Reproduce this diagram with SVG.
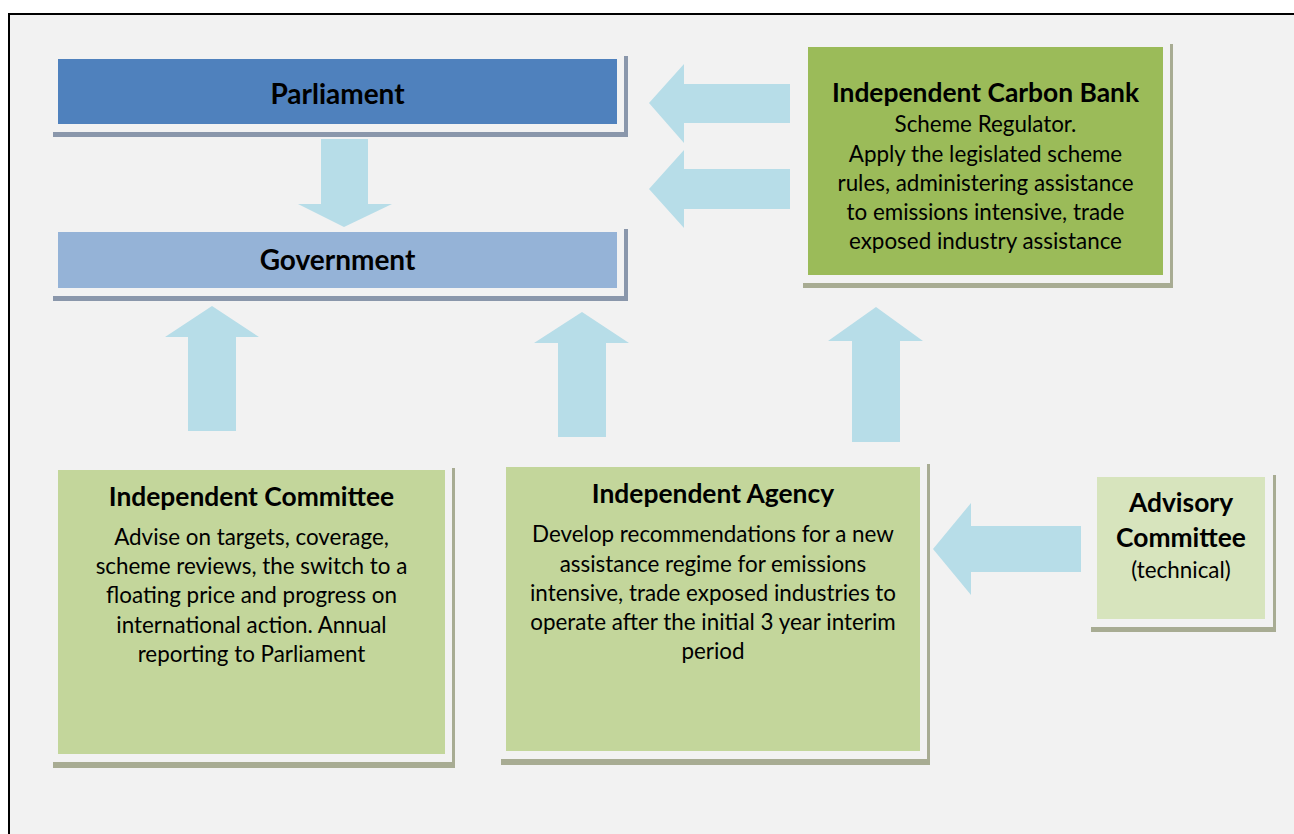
<svg xmlns="http://www.w3.org/2000/svg" width="1294" height="834" viewBox="0 0 1294 834">
<style>
.bg{fill:#f2f2f2;stroke:#000;stroke-width:2}
.arrow{fill:#b7dde8}
.shb{fill:#8a97ab}
.shg{fill:#a8ac93}
.t{font-family:Lato,"Liberation Sans",sans-serif;font-weight:bold;font-size:26.4px;fill:#000;text-anchor:middle}
.tl{font-size:28px}
.b{font-family:Lato,"Liberation Sans",sans-serif;font-size:22.4px;fill:#000;text-anchor:middle}
</style>
<rect width="1294" height="834" fill="#fff"/>
<rect class="bg" x="9" y="14" width="1300" height="830"/>
<g id="connectors">
<polygon class="arrow" points="649,103 684,64 684,84 790,84 790,123 684,123 684,143"/>
<polygon class="arrow" points="649,189 684,150 684,169 790,169 790,209 684,209 684,228"/>
<polygon class="arrow" points="321,139 368,139 368,204 392,204 344,227 298,204 321,204"/>
<polygon class="arrow" points="212,306 259,337 236,337 236,431 188,431 188,337 165,337"/>
<polygon class="arrow" points="582,312 629,343 606,343 606,437 558,437 558,343 534,343"/>
<polygon class="arrow" points="876,307 923,341 900,341 900,442 852,442 852,341 828,341"/>
<polygon class="arrow" points="933,549 971,503 971,526 1081,526 1081,572 971,572 971,595"/>
</g>
<g id="parliament">
<rect class="shb" x="53" y="132" width="575" height="5"/>
<rect class="shb" x="624" y="56" width="4" height="81"/>
<rect x="58" y="59" width="559" height="65" fill="#4f81bd"/>
<text class="t tl" x="337.5" y="104">Parliament</text>
</g>
<g id="government">
<rect class="shb" x="53" y="296" width="575" height="5"/>
<rect class="shb" x="624" y="229" width="4" height="72"/>
<rect x="58" y="232" width="559" height="56" fill="#95b3d7"/>
<text class="t tl" x="337.5" y="270">Government</text>
</g>
<g id="carbon-bank">
<rect class="shg" x="803" y="283" width="370" height="5"/>
<rect class="shg" x="1170" y="44" width="3" height="244"/>
<rect x="808" y="47" width="355" height="228" fill="#9bbb59"/>
<text class="t" x="985.5" y="102">Independent Carbon Bank</text>
<text class="b" x="985.5" y="132">Scheme Regulator.</text>
<text class="b" x="985.5" y="162">Apply the legislated scheme</text>
<text class="b" x="985.5" y="191">rules, administering assistance</text>
<text class="b" x="985.5" y="220">to emissions intensive, trade</text>
<text class="b" x="985.5" y="249">exposed industry assistance</text>
</g>
<g id="independent-committee">
<rect class="shg" x="53" y="762" width="402" height="6"/>
<rect class="shg" x="452" y="468" width="3" height="300"/>
<rect x="58" y="470" width="387" height="284" fill="#c3d69b"/>
<text class="t" x="251.5" y="506">Independent Committee</text>
<text class="b" x="251.5" y="545">Advise on targets, coverage,</text>
<text class="b" x="251.5" y="574">scheme reviews, the switch to a</text>
<text class="b" x="251.5" y="603">floating price and progress on</text>
<text class="b" x="251.5" y="633">international action. Annual</text>
<text class="b" x="251.5" y="662">reporting to Parliament</text>
</g>
<g id="independent-agency">
<rect class="shg" x="501" y="759" width="429" height="6"/>
<rect class="shg" x="927" y="464" width="3" height="301"/>
<rect x="506" y="467" width="414" height="284" fill="#c3d69b"/>
<text class="t" x="713" y="503">Independent Agency</text>
<text class="b" x="713" y="542">Develop recommendations for a new</text>
<text class="b" x="713" y="572">assistance regime for emissions</text>
<text class="b" x="713" y="601">intensive, trade exposed industries to</text>
<text class="b" x="713" y="630">operate after the initial 3 year interim</text>
<text class="b" x="713" y="659">period</text>
</g>
<g id="advisory-committee">
<rect class="shg" x="1091" y="627" width="185" height="5"/>
<rect class="shg" x="1273" y="475" width="3" height="157"/>
<rect x="1097" y="477" width="168" height="142" fill="#d7e4bd"/>
<text class="t" x="1181" y="512">Advisory</text>
<text class="t" x="1181" y="547">Committee</text>
<text class="b" x="1181" y="578">(technical)</text>
</g>
</svg>
